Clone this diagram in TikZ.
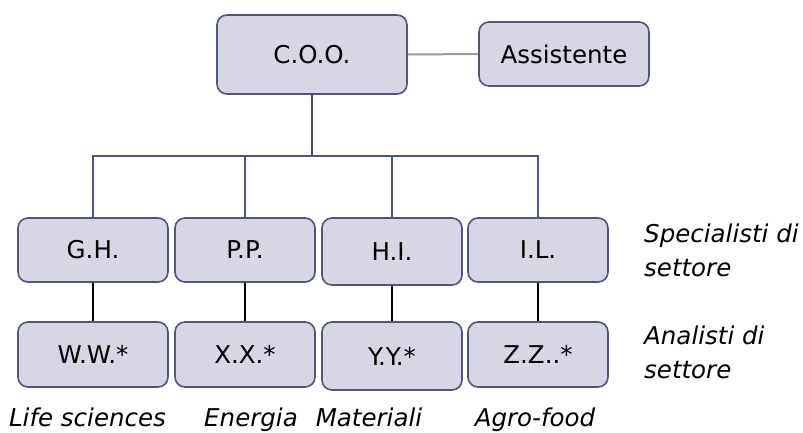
\documentclass[tikz,border=0pt]{standalone}
\usepackage{fontspec}
\setmainfont{DejaVu Sans}
\definecolor{boxfill}{HTML}{D6D6E4}
\definecolor{boxdraw}{HTML}{50557A}
\definecolor{linetop}{HTML}{464B74}
\definecolor{assline}{HTML}{9A9A9A}
\begin{document}
\begin{tikzpicture}[x=1pt,y=-1pt,
  orgbox/.style={draw=boxdraw,fill=boxfill,line width=1.6pt,rounded corners=10pt,
    font=\fontsize{24.5}{28}\selectfont,text=black,inner sep=0pt,anchor=center},
  side/.style={font=\fontsize{24.5}{34}\itshape\selectfont,align=left,anchor=west,inner sep=0pt},
  sectorlabel/.style={font=\fontsize{24.5}{28}\itshape\selectfont,inner sep=0pt,anchor=base},
  blk/.style={line width=1.4pt,draw=black}]
\useasboundingbox (0,0) rectangle (803,433);
\node[orgbox,minimum width=190pt,minimum height=79pt] (coo) at (312,54.5) {C.O.O.};
\node[orgbox,minimum width=170pt,minimum height=64pt] (ass) at (564,54) {Assistente};
\node[orgbox,minimum width=150pt,minimum height=64pt] (gh) at (93,250) {G.H.};
\node[orgbox,minimum width=140pt,minimum height=64pt] (pp) at (245,250) {P.P.};
\node[orgbox,minimum width=140pt,minimum height=67pt] (hi) at (392,251.5) {H.I.};
\node[orgbox,minimum width=140pt,minimum height=64pt] (il) at (538,250) {I.L.};
\node[orgbox,minimum width=150pt,minimum height=65pt] (ww) at (93,354.5) {W.W.*};
\node[orgbox,minimum width=140pt,minimum height=65pt] (xx) at (245,354.5) {X.X.*};
\node[orgbox,minimum width=140pt,minimum height=68pt] (yy) at (392,356) {Y.Y.*};
\node[orgbox,minimum width=140pt,minimum height=65pt] (zz) at (538,354.5) {Z.Z..*};
\coordinate (bar) at (312,156);
\draw[assline,line width=2pt] (coo.east) -- (ass.west);
\draw[linetop,line width=2.6pt] (coo.south) -- (bar);
\draw[boxdraw,line width=1.8pt] (gh.north) |- (bar) -| (il.north);
\draw[boxdraw,line width=1.8pt] (pp.north) -- (pp.north |- bar);
\draw[boxdraw,line width=1.8pt] (hi.north) -- (hi.north |- bar);
\draw[blk] (gh.south) -- (ww.north);
\draw[blk] (pp.south) -- (xx.north);
\draw[blk] (hi.south) -- (yy.north);
\draw[blk] (il.south) -- (zz.north);
\node[side] (spec) at (644,250) {Specialisti di\\settore};
\node[side] (anal) at (644,352) {Analisti di\\settore};
\node[sectorlabel] (l1) at (87.5,426) {Life sciences};
\node[sectorlabel] (l2) at (251,426) {Energia};
\node[sectorlabel] (l3) at (369,426) {Materiali};
\node[sectorlabel] (l4) at (535,426) {Agro-food};
\end{tikzpicture}
\end{document}
